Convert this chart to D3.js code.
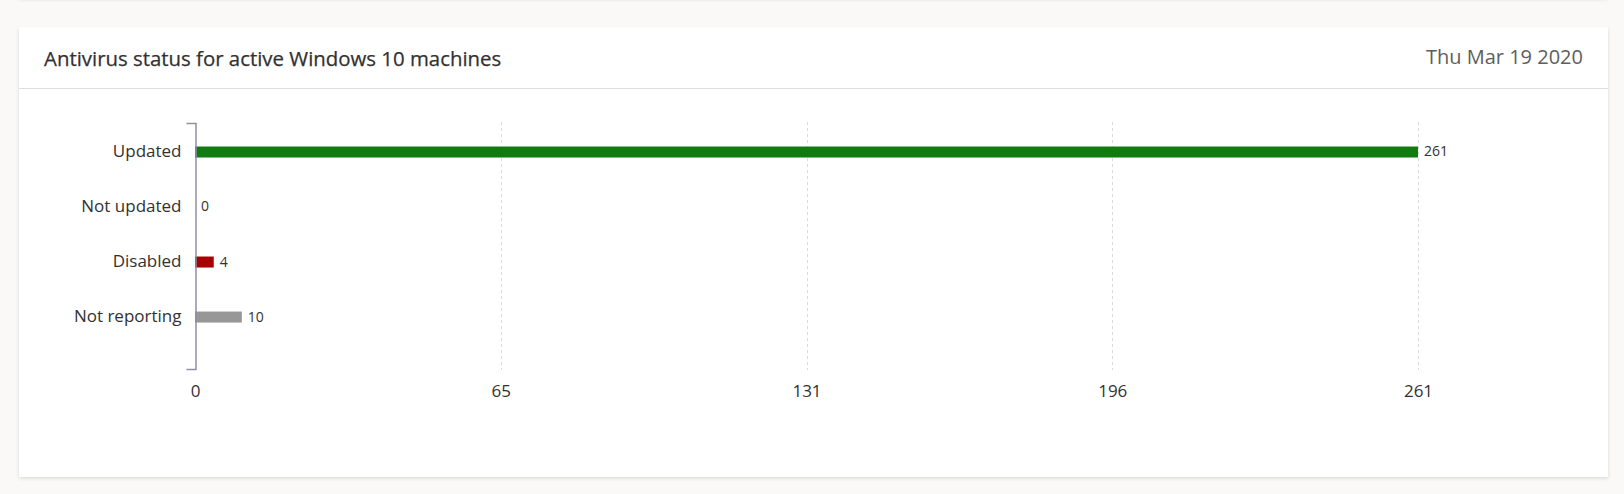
<!DOCTYPE html>
<html>
<head>
<meta charset="utf-8">
<script src="https://cdn.jsdelivr.net/npm/d3@7"></script>
<style>
  html, body { margin: 0; padding: 0; }
  body {
    width: 1624px; height: 494px; overflow: hidden; position: relative;
    background: #faf9f8;
    font-family: "Segoe UI", "Open Sans", sans-serif;
  }
  .card {
    position: absolute; left: 19px; width: 1589px; background: #fff;
    box-shadow: 0 1.6px 3.6px rgba(0,0,0,0.13), 0 0.3px 0.9px rgba(0,0,0,0.11);
  }
  .card-title {
    position: absolute; left: 25px; top: 17px; font-size: 20.4px; font-weight: 400;
    color: #323130; white-space: nowrap; -webkit-text-stroke: 0.25px #323130;
  }
  .card-date {
    position: absolute; right: 25px; top: 16px; font-size: 20px; color: #605e5c;
    white-space: nowrap;
  }
  .card-sep { position: absolute; left: 0; right: 0; top: 61px; height: 1px; background: #e1dfdd; }
  svg { position: absolute; left: 0; top: 0; }
</style>
</head>
<body>
<div class="card" style="top:-120px;height:118px;"></div>
<div class="card" style="top:27px;height:450px;">
  <div class="card-title">Antivirus status for active Windows 10 machines</div>
  <div class="card-date">Thu Mar 19 2020</div>
  <div class="card-sep"></div>
</div>
<svg id="chart" width="1624" height="494"></svg>
<script>
const categories = ["Updated", "Not updated", "Disabled", "Not reporting"];
const counts = [261, 0, 4, 10];
const tickValues = [0, 65.25, 130.5, 195.75, 261];
const tickLabels = ["0", "65", "131", "196", "261"];

const data = categories.map((c, i) => ({ label: c, value: counts[i] }));

const svg = d3.select("#chart");

const x = d3.scaleLinear().domain([0, 261]).range([195, 1418]);

const y = d3.scaleBand()
  .domain(categories)
  .range([123, 369])
  .paddingInner(0)
  .paddingOuter(0.236)
  .align(0.058);

const color = d3.scaleOrdinal()
  .domain(categories)
  .range(["#107c10", "#107c10", "#a80000", "#979797"]);

// dashed grid
svg.append("g")
  .selectAll("line")
  .data(tickValues.slice(1))
  .join("line")
  .attr("x1", (d) => Math.round(x(d)) + 0.5)
  .attr("x2", (d) => Math.round(x(d)) + 0.5)
  .attr("y1", 122)
  .attr("y2", 370)
  .attr("stroke", "#dcdad8")
  .attr("stroke-dasharray", "3,3");

// x axis labels only
const xAxis = svg.append("g")
  .attr("transform", "translate(0,369)")
  .call(d3.axisBottom(x).tickValues(tickValues)
    .tickFormat((d, i) => tickLabels[i])
    .tickSize(0).tickPadding(16));
xAxis.select(".domain").remove();
xAxis.selectAll("text")
  .attr("font-family", "'Segoe UI', 'Open Sans', sans-serif")
  .attr("font-size", 17)
  .attr("fill", "#323130");

// bars
const barH = 11;
svg.append("g")
  .selectAll("rect")
  .data(data)
  .join("rect")
  .attr("x", x(0))
  .attr("y", (d) => y(d.label) + y.bandwidth() / 2 - barH / 2)
  .attr("width", (d) => x(d.value) - x(0))
  .attr("height", barH)
  .attr("fill", (d) => color(d.label));

// value labels
svg.append("g")
  .selectAll("text")
  .data(data)
  .join("text")
  .attr("x", (d) => x(d.value) + 6)
  .attr("y", (d) => y(d.label) + y.bandwidth() / 2)
  .attr("dy", "0.32em")
  .attr("font-family", "'Segoe UI', 'Open Sans', sans-serif")
  .attr("font-size", 14)
  .attr("fill", "#323130")
  .text((d) => d.value);

// y axis with bracket ends
const yAxis = svg.append("g")
  .attr("transform", `translate(${x(0) + 0.5},0)`)
  .call(d3.axisLeft(y).tickSizeInner(0).tickSizeOuter(9).tickPadding(14));
yAxis.select(".domain")
  .attr("stroke", "#8e90a4")
  .attr("stroke-width", 1.5);
yAxis.selectAll("text")
  .attr("font-family", "'Segoe UI', 'Open Sans', sans-serif")
  .attr("font-size", 17)
  .attr("fill", "#323130");
</script>
</body>
</html>
